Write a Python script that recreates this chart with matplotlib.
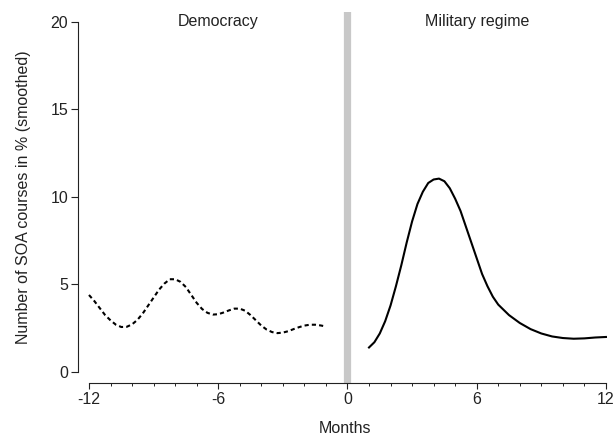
import matplotlib as mpl
mpl.use('Agg')
import matplotlib.pyplot as plt
from matplotlib.ticker import MultipleLocator

plt.rcParams['font.family'] = ['Liberation Sans', 'DejaVu Sans']

# democracy period (months before coup)
dem_months = [-12, -11.75, -11.5, -11.25, -11, -10.75, -10.5, -10.25, -10,
              -9.75, -9.5, -9.25, -9, -8.75, -8.5, -8.25, -8, -7.75, -7.5,
              -7.25, -7, -6.75, -6.5, -6.25, -6, -5.75, -5.5, -5.25, -5,
              -4.75, -4.5, -4.25, -4, -3.75, -3.5, -3.25, -3, -2.75, -2.5,
              -2.25, -2, -1.75, -1.5, -1.25, -1]
dem_values = [4.4, 4.05, 3.65, 3.25, 2.95, 2.7, 2.57, 2.58, 2.72,
              2.98, 3.35, 3.8, 4.25, 4.7, 5.05, 5.3, 5.3, 5.15, 4.85,
              4.4, 3.95, 3.6, 3.38, 3.28, 3.3, 3.4, 3.52, 3.62, 3.62,
              3.5, 3.25, 2.95, 2.65, 2.42, 2.28, 2.22, 2.25, 2.33, 2.45,
              2.56, 2.65, 2.7, 2.7, 2.66, 2.6]

# military regime period
mil_months = [1, 1.25, 1.5, 1.75, 2, 2.25, 2.5, 2.75, 3, 3.25, 3.5, 3.75,
              4, 4.25, 4.5, 4.75, 5, 5.25, 5.5, 5.75, 6, 6.25, 6.5, 6.75,
              7, 7.5, 8, 8.5, 9, 9.5, 10, 10.5, 11, 11.5, 12]
mil_values = [1.4, 1.7, 2.2, 2.9, 3.8, 4.9, 6.1, 7.4, 8.6, 9.6, 10.3, 10.8,
              11.0, 11.05, 10.9, 10.5, 9.9, 9.2, 8.3, 7.4, 6.5, 5.6, 4.9, 4.3,
              3.85, 3.25, 2.8, 2.45, 2.2, 2.03, 1.94, 1.9, 1.92, 1.97, 2.0]

x_ticks = [-12, -6, 0, 6, 12]
y_ticks = [0, 5, 10, 15, 20]
fs = 11.5
ink = '#222222'

fig = plt.figure(figsize=(6.14, 4.37), dpi=100)
ax = fig.add_axes([78 / 614, 54 / 437, (612.4 - 78) / 614, (383 - 11.5) / 437])

ax.axvline(0, color='#c8c8c8', linewidth=5.2, zorder=1)
ax.plot(dem_months, dem_values, color='black', linewidth=1.5,
        linestyle=(0, (2, 1.5)))
ax.plot(mil_months, mil_values, color='black', linewidth=1.5)

ax.set_xlim(-12.51, 12.3)
ax.set_ylim(-0.63, 20.6)

ax.spines['top'].set_visible(False)
ax.spines['right'].set_visible(False)
ax.spines['left'].set_bounds(0, 20)
ax.spines['bottom'].set_bounds(-12, 12)
for s in ['left', 'bottom']:
    ax.spines[s].set_linewidth(0.8)
    ax.spines[s].set_color(ink)

ax.set_xticks(x_ticks)
ax.set_xticklabels([str(t) for t in x_ticks])
ax.xaxis.set_minor_locator(MultipleLocator(1))
ax.set_yticks(y_ticks)
ax.tick_params(axis='both', which='major', width=0.8, labelsize=fs, colors=ink)
ax.tick_params(axis='x', which='major', length=4, pad=2.5)
ax.tick_params(axis='y', which='major', length=5, pad=2)
ax.tick_params(axis='x', which='minor', length=2.5, width=0.7, colors=ink)

ax.text(-6, 20, 'Democracy', ha='center', va='center', fontsize=fs, color=ink)
ax.text(6, 20, 'Military regime', ha='center', va='center', fontsize=fs,
        color=ink)

ax.set_xlabel('Months', fontsize=fs, color=ink, labelpad=10)
ax.set_ylabel('Number of SOA courses in % (smoothed)', fontsize=fs,
              color=ink, labelpad=14)

fig.savefig('out.png', dpi=100)
